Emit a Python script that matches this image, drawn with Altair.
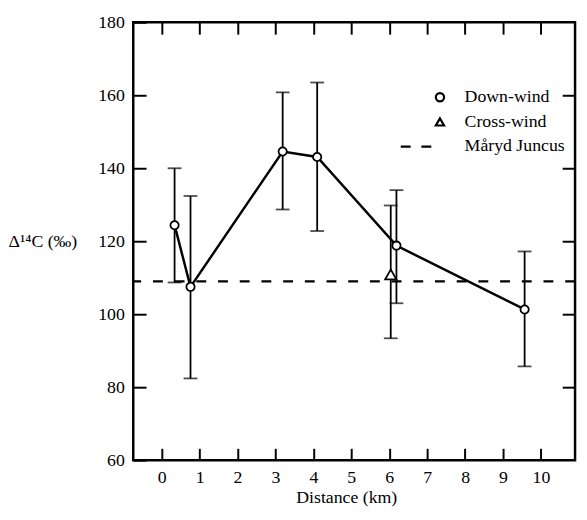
import altair as alt
import pandas as pd

# ---- data ----
series = ["Down-wind"] * 6 + ["Cross-wind"]
distance = [0.34, 0.76, 3.19, 4.10, 6.19, 9.57, 6.04]
delta14c = [124.4, 107.5, 144.6, 143.1, 118.8, 101.3, 110.9]
err_low = [108.7, 82.4, 128.7, 122.8, 103.0, 85.7, 93.4]
err_high = [140.0, 132.4, 160.8, 163.5, 134.0, 117.2, 129.8]
juncus_level = [109.0]
legend_labels = ["Down-wind", "Cross-wind", "Måryd Juncus"]
x_ticks = [0, 1, 2, 3, 4, 5, 6, 7, 8, 9, 10]
y_ticks = [60, 80, 100, 120, 140, 160, 180]
y_inner_ticks = [80, 100, 120, 140, 160]

df = pd.DataFrame({
    "series": series,
    "distance": distance,
    "delta": delta14c,
    "low": err_low,
    "high": err_high,
})
down = df[df["series"] == "Down-wind"]
cross = df[df["series"] == "Cross-wind"]
level_df = pd.DataFrame({"level": juncus_level})

FONT = "Liberation Serif"
FS = 18
xscale = alt.Scale(domain=[-0.75, 10.9], nice=False, zero=False)
yscale = alt.Scale(domain=[60, 180], nice=False, zero=False)

# legend symbol for the dashed reference line: two short dashes left of centre
DASH_PATH = "M-9.5,0L-7.1,0M-4.5,0L-2.1,0"

x_bottom = alt.Axis(
    orient="bottom", values=x_ticks, format="d", tickSize=12, offset=-12,
    domain=False, grid=False, tickColor="black", tickWidth=2,
    labelPadding=9, labelFont=FONT, labelFontSize=FS, labelColor="black",
    title="Distance (km)", titleFont=FONT, titleFontSize=FS,
    titleFontWeight="normal", titleColor="black", titleAlign="center",
    titleBaseline="alphabetic", titleX=216, titleY=55,
)
y_left = alt.Axis(
    orient="left", values=y_ticks, format="d", tickSize=13, offset=-13,
    domain=False, grid=False, tickColor="black", tickWidth=2,
    labelPadding=9, labelFont=FONT, labelFontSize=FS, labelColor="black",
    title="Δ¹⁴C (‰)", titleFont=FONT, titleFontSize=FS,
    titleFontWeight="normal", titleColor="black", titleAngle=0,
    titleAlign="left", titleBaseline="middle", titleX=-140, titleY=222,
)
x_top = alt.Axis(
    orient="top", values=x_ticks, tickSize=12, offset=-12, domain=False,
    grid=False, labels=False, tickColor="black", tickWidth=2, title=None,
)
y_right = alt.Axis(
    orient="right", values=y_inner_ticks, tickSize=13, offset=-13,
    domain=False, grid=False, labels=False, tickColor="black", tickWidth=2,
    title=None,
)

juncus = alt.Chart(level_df).mark_rule(
    color="black", strokeWidth=2.5, strokeDash=[10, 12]
).encode(y=alt.Y("level:Q", scale=yscale, axis=None))

errbars = alt.Chart(df).mark_rule(color="black", strokeWidth=1.8).encode(
    x=alt.X("distance:Q", scale=xscale, axis=x_top),
    y=alt.Y("low:Q", scale=yscale, axis=y_right),
    y2="high:Q",
)
cap_hi = alt.Chart(df).mark_tick(
    orient="horizontal", color="black", thickness=1.8, size=14
).encode(
    x=alt.X("distance:Q", scale=xscale, axis=None),
    y=alt.Y("high:Q", scale=yscale, axis=None),
)
cap_lo = alt.Chart(df).mark_tick(
    orient="horizontal", color="black", thickness=1.8, size=14
).encode(
    x=alt.X("distance:Q", scale=xscale, axis=None),
    y=alt.Y("low:Q", scale=yscale, axis=None),
)
line = alt.Chart(down).mark_line(color="black", strokeWidth=2.5).encode(
    x=alt.X("distance:Q", scale=xscale, axis=None),
    y=alt.Y("delta:Q", scale=yscale, axis=None),
)
points = alt.Chart(down).mark_point(
    filled=False, fill="white", fillOpacity=1, stroke="black",
    strokeWidth=1.8, opacity=1, size=70
).encode(
    x=alt.X("distance:Q", scale=xscale, axis=x_bottom),
    y=alt.Y("delta:Q", scale=yscale, axis=y_left),
    shape=alt.Shape(
        "series:N",
        scale=alt.Scale(domain=legend_labels,
                        range=["circle", "triangle-up", DASH_PATH]),
        legend=alt.Legend(
            title=None, orient="none", legendX=302, legendY=67, padding=0,
            labelFont=FONT, labelFontSize=FS, labelColor="black",
            symbolSize=70, symbolStrokeWidth=2.2, labelOffset=16, rowPadding=7,
        ),
    ),
)
triangle = alt.Chart(cross).mark_point(
    shape="triangle-up", filled=False, fill="white", fillOpacity=1,
    stroke="black", strokeWidth=1.8, opacity=1, size=130
).encode(
    x=alt.X("distance:Q", scale=xscale, axis=None),
    y=alt.Y("delta:Q", scale=yscale, axis=None),
)

chart = alt.layer(juncus, errbars, cap_hi, cap_lo, line, points, triangle).resolve_axis(
    x="independent", y="independent"
).properties(
    width=448, height=444,
    autosize=alt.AutoSizeParams(type="none"),
    padding={"left": 127, "top": 11, "right": 4, "bottom": 45},
    background="white",
).configure(font=FONT).configure_view(stroke="black", strokeWidth=2.5)

chart.save("out.html", embed_options={"renderer": "svg", "actions": False})
